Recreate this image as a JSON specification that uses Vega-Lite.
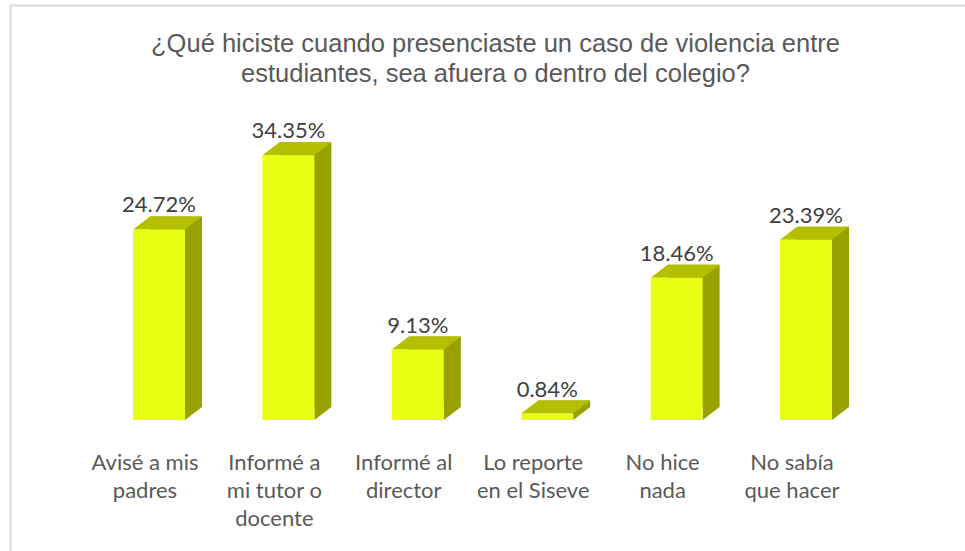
{
  "$schema": "https://vega.github.io/schema/vega-lite/v6.json",
  "autosize": {"type": "none"},
  "padding": {"left": 10, "top": 5, "right": 0, "bottom": 0},
  "width": 955,
  "height": 546,
  "background": "#FFFFFF",
  "config": {"view": {"stroke": null}},
  "title": {
    "text": ["¿Qué hiciste cuando presenciaste un caso de violencia entre", "estudiantes, sea afuera o dentro del colegio?"],
    "anchor": "middle",
    "frame": "group",
    "baseline": "top",
    "offset": -82,
    "dx": 8,
    "font": "Liberation Sans",
    "fontSize": 25.5,
    "fontWeight": "normal",
    "color": "#595959",
    "lineHeight": 30
  },
  "data": {
    "values": [
      {"categoria": "Avisé a mis\npadres", "valor": 24.72},
      {"categoria": "Informé a\nmi tutor o\ndocente", "valor": 34.35},
      {"categoria": "Informé al\ndirector", "valor": 9.13},
      {"categoria": "Lo reporte\nen el Siseve", "valor": 0.84},
      {"categoria": "No hice\nnada", "valor": 18.46},
      {"categoria": "No sabía\nque hacer", "valor": 23.39}
    ]
  },
  "encoding": {
    "x": {
      "field": "categoria",
      "type": "nominal",
      "sort": null,
      "scale": {"paddingInner": 0.6, "paddingOuter": 0.99, "align": 0.4805},
      "axis": {
        "orient": "bottom",
        "offset": -131,
        "domain": false,
        "ticks": false,
        "grid": false,
        "title": null,
        "labelAngle": 0,
        "labelOffset": -14,
        "labelPadding": 32,
        "labelFont": "Lato",
        "labelFontSize": 22,
        "labelColor": "#595959",
        "labelLineHeight": 28,
        "labelLimit": 300,
        "labelExpr": "split(datum.value, '\\n')"
      }
    },
    "y": {
      "field": "valor",
      "type": "quantitative",
      "scale": {"domain": [-16.99, 53.83], "nice": false, "zero": false},
      "axis": {
        "orient": "left",
        "domain": true,
        "domainColor": "#D9D9D9",
        "domainWidth": 2,
        "ticks": false,
        "labels": false,
        "title": null,
        "grid": true,
        "gridColor": "#D9D9D9",
        "gridWidth": 2,
        "values": [53.83]
      }
    }
  },
  "layer": [
    {
      "mark": {"type": "bar", "width": 52, "xOffset": 17, "yOffset": -13, "y2Offset": -13, "fill": "#97A200", "strokeWidth": 0},
      "encoding": {"y2": {"datum": 0}}
    },
    {
      "mark": {"type": "point", "shape": "M 26 -13 L 26 0 L 43 -13 Z", "size": 4, "filled": true, "fill": "#97A200", "strokeWidth": 0, "opacity": 1},
      "encoding": {"y": {"datum": 0}}
    },
    {
      "mark": {"type": "point", "shape": "M -26 0 L 26 0 L 43 -13 L -9 -13 Z", "size": 4, "filled": true, "fill": "#B4BF00", "strokeWidth": 0, "opacity": 1},
      "encoding": {}
    },
    {
      "mark": {"type": "bar", "width": 52, "fill": "#E8FF12", "strokeWidth": 0},
      "encoding": {"y2": {"datum": 0}}
    },
    {
      "mark": {"type": "text", "font": "Lato", "fontSize": 22, "fill": "#404040", "baseline": "alphabetic", "align": "center", "dy": -17, "text": {"expr": "format(datum.valor, '.2f') + '%'"}},
      "encoding": {}
    }
  ]
}
